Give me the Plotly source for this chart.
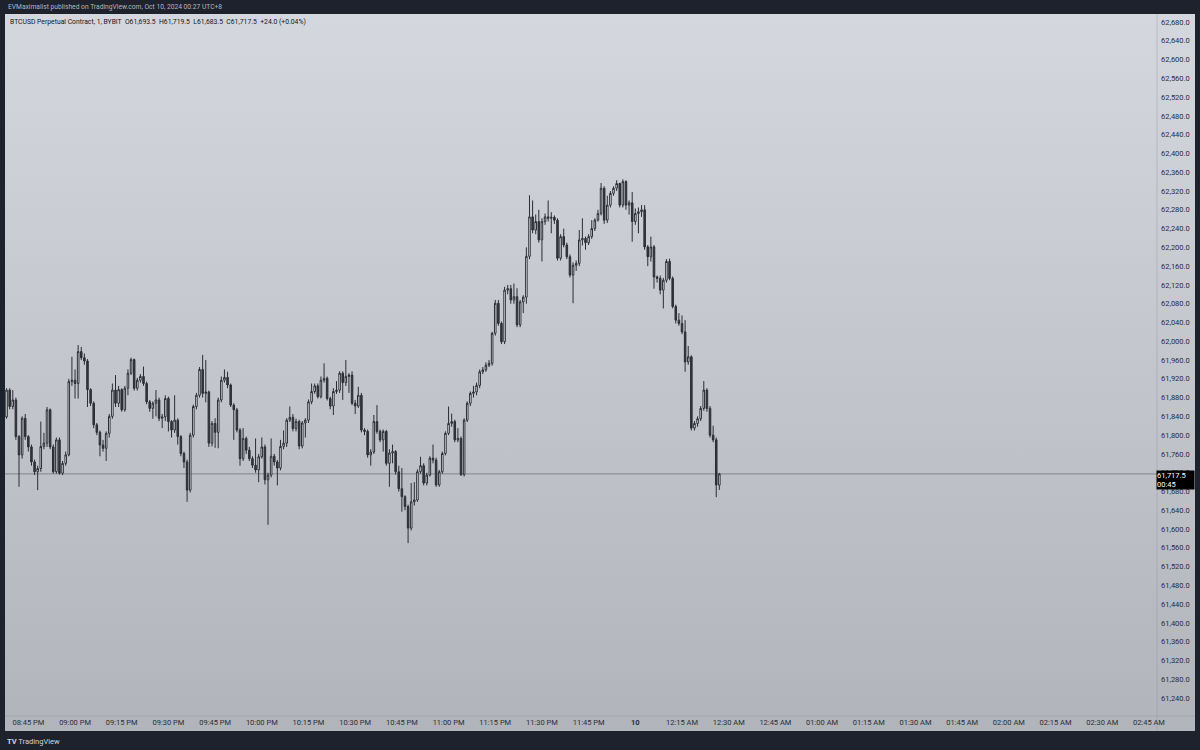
import base64
import plotly.graph_objects as go
import pandas as pd

# ---------------- data (BTCUSD 1-minute candles) ----------------
start_time = "2024-10-09 20:38"

opens = [
    61839, 61896, 61861, 61875, 61797, 61758, 61836, 61797, 61775, 61743,
    61722, 61729, 61776, 61783, 61854, 61775, 61722, 61790, 61719, 61740,
    61758, 61914, 61917, 61910, 61978, 61965, 61958, 61897, 61868, 61822,
    61806, 61779, 61772, 61804, 61840, 61896, 61868, 61897, 61854, 61900,
    61932, 61961, 61900, 61917, 61925, 61910, 61871, 61857, 61868, 61875,
    61836, 61839, 61878, 61829, 61811, 61832, 61797, 61761, 61743, 61683,
    61800, 61861, 61885, 61940, 61889, 61892, 61783, 61825, 61806, 61875,
    61917, 61923, 61907, 61864, 61854, 61811, 61750, 61793, 61768, 61750,
    61736, 61726, 61754, 61775, 61705, 61715, 61755, 61743, 61730, 61776,
    61783, 61832, 61838, 61814, 61829, 61777, 61826, 61832, 61871, 61893,
    61905, 61882, 61917, 61921, 61878, 61862, 61893, 61896, 61932, 61912,
    61925, 61928, 61868, 61862, 61885, 61811, 61808, 61758, 61764, 61829,
    61808, 61790, 61808, 61740, 61762, 61765, 61722, 61686, 61669, 61648,
    61602, 61658, 61662, 61722, 61735, 61698, 61715, 61751, 61747, 61694,
    61722, 61761, 61804, 61825, 61829, 61790, 61793, 61716, 61832, 61868,
    61889, 61892, 61906, 61935, 61939, 61949, 61953, 62017, 62081, 62038,
    61999, 62109, 62112, 62088, 62095, 62035, 62084, 62094, 62181, 62265,
    62237, 62255, 62216, 62255, 62265, 62262, 62264, 62258, 62177, 62223,
    62205, 62180, 62141, 62162, 62166, 62216, 62219, 62210, 62223, 62240,
    62258, 62272, 62326, 62258, 62290, 62315, 62326, 62336, 62290, 62340,
    62290, 62295, 62255, 62272, 62276, 62280, 62201, 62180, 62201, 62137,
    62134, 62109, 62130, 62170, 62134, 62074, 62045, 62038, 62020, 61956,
    61967, 61815, 61825, 61835, 61857, 61896, 61857, 61800, 61790, 61693.5,
]

highs = [
    61900, 61900, 61896, 61880, 61800, 61840, 61845, 61800, 61780, 61748,
    61735, 61829, 61805, 61860, 61857, 61780, 61795, 61795, 61745, 61765,
    61920, 61967, 61940, 61992, 61988, 61974, 61962, 61900, 61872, 61826,
    61810, 61790, 61808, 61845, 61910, 61928, 61905, 61900, 61905, 61940,
    61965, 61963, 61922, 61930, 61946, 61914, 61875, 61872, 61896, 61880,
    61845, 61885, 61882, 61832, 61885, 61836, 61800, 61765, 61748, 61805,
    61865, 61890, 61945, 61971, 61960, 61895, 61830, 61836, 61880, 61925,
    61940, 61935, 61910, 61868, 61858, 61815, 61815, 61797, 61775, 61755,
    61793, 61760, 61795, 61780, 61720, 61793, 61760, 61747, 61790, 61810,
    61836, 61861, 61845, 61835, 61833, 61830, 61836, 61876, 61910, 61910,
    61910, 61925, 61953, 61925, 61882, 61900, 61915, 61936, 61936, 61960,
    61932, 61936, 61875, 61903, 61890, 61815, 61812, 61770, 61843, 61864,
    61812, 61812, 61811, 61770, 61780, 61768, 61735, 61730, 61672, 61652,
    61698, 61700, 61727, 61754, 61740, 61720, 61755, 61780, 61752, 61726,
    61765, 61808, 61861, 61846, 61833, 61815, 61797, 61836, 61872, 61893,
    61905, 61912, 61940, 61945, 61955, 61960, 62020, 62088, 62088, 62042,
    62116, 62120, 62120, 62123, 62113, 62088, 62098, 62200, 62311, 62300,
    62270, 62280, 62262, 62272, 62300, 62275, 62268, 62262, 62228, 62240,
    62210, 62185, 62168, 62172, 62237, 62262, 62223, 62228, 62258, 62262,
    62280, 62337, 62330, 62310, 62320, 62330, 62343, 62338, 62345, 62343,
    62300, 62318, 62283, 62285, 62290, 62290, 62205, 62223, 62205, 62140,
    62140, 62135, 62175, 62176, 62138, 62078, 62060, 62055, 62045, 61990,
    61970, 61830, 61840, 61862, 61915, 61900, 61862, 61820, 61795, 61719.5,
]

lows = [
    61835, 61855, 61855, 61790, 61690, 61750, 61790, 61765, 61735, 61715,
    61683, 61722, 61770, 61775, 61770, 61718, 61718, 61716, 61715, 61735,
    61755, 61905, 61878, 61878, 61960, 61950, 61860, 61862, 61815, 61800,
    61755, 61765, 61745, 61795, 61835, 61860, 61860, 61850, 61850, 61885,
    61928, 61895, 61895, 61912, 61905, 61866, 61850, 61835, 61840, 61830,
    61815, 61830, 61808, 61795, 61805, 61780, 61755, 61730, 61658, 61678,
    61795, 61855, 61880, 61880, 61870, 61775, 61776, 61773, 61772, 61870,
    61912, 61900, 61860, 61790, 61806, 61735, 61745, 61760, 61745, 61730,
    61720, 61700, 61750, 61695, 61609, 61710, 61735, 61693, 61725, 61770,
    61775, 61828, 61808, 61808, 61770, 61772, 61795, 61826, 61866, 61888,
    61878, 61878, 61912, 61874, 61855, 61843, 61888, 61890, 61875, 61905,
    61890, 61864, 61845, 61858, 61806, 61800, 61752, 61735, 61760, 61803,
    61785, 61765, 61735, 61690, 61740, 61716, 61680, 61637, 61640, 61570,
    61597, 61650, 61658, 61718, 61693, 61693, 61712, 61740, 61690, 61690,
    61718, 61757, 61800, 61818, 61785, 61785, 61713, 61712, 61828, 61862,
    61880, 61885, 61900, 61930, 61935, 61945, 61948, 62012, 62033, 61994,
    61994, 62100, 62080, 62080, 62030, 62030, 62060, 62080, 62175, 62230,
    62228, 62210, 62170, 62248, 62255, 62230, 62250, 62172, 62172, 62200,
    62175, 62136, 62081, 62150, 62160, 62204, 62195, 62205, 62218, 62235,
    62255, 62268, 62250, 62252, 62285, 62310, 62320, 62285, 62285, 62280,
    62270, 62212, 62248, 62230, 62265, 62195, 62160, 62170, 62112, 62125,
    62100, 62070, 62125, 62130, 62070, 62038, 62033, 62015, 61935, 61950,
    61810, 61810, 61818, 61830, 61852, 61850, 61795, 61785, 61668, 61683.5,
]

closes = [
    61896, 61861, 61875, 61797, 61758, 61836, 61797, 61775, 61743, 61722,
    61729, 61776, 61783, 61854, 61775, 61722, 61790, 61719, 61740, 61758,
    61914, 61917, 61910, 61978, 61965, 61958, 61897, 61868, 61822, 61806,
    61779, 61772, 61804, 61840, 61896, 61868, 61897, 61854, 61900, 61932,
    61961, 61900, 61917, 61925, 61910, 61871, 61857, 61868, 61875, 61836,
    61839, 61878, 61829, 61811, 61832, 61797, 61761, 61743, 61683, 61800,
    61861, 61885, 61940, 61889, 61892, 61783, 61825, 61806, 61875, 61917,
    61923, 61907, 61864, 61854, 61811, 61750, 61793, 61768, 61750, 61736,
    61726, 61754, 61775, 61705, 61715, 61755, 61743, 61730, 61776, 61783,
    61832, 61838, 61814, 61829, 61777, 61826, 61832, 61871, 61893, 61905,
    61882, 61917, 61921, 61878, 61862, 61893, 61896, 61932, 61912, 61925,
    61928, 61868, 61862, 61885, 61811, 61808, 61758, 61764, 61829, 61808,
    61790, 61808, 61740, 61762, 61765, 61722, 61686, 61669, 61648, 61602,
    61658, 61662, 61722, 61735, 61698, 61715, 61751, 61747, 61694, 61722,
    61761, 61804, 61825, 61829, 61790, 61793, 61716, 61832, 61868, 61889,
    61892, 61906, 61935, 61939, 61949, 61953, 62017, 62081, 62038, 61999,
    62109, 62112, 62088, 62095, 62035, 62084, 62094, 62181, 62265, 62237,
    62255, 62216, 62255, 62265, 62262, 62264, 62258, 62177, 62223, 62205,
    62180, 62141, 62162, 62166, 62216, 62219, 62210, 62223, 62240, 62258,
    62272, 62326, 62258, 62290, 62315, 62326, 62336, 62290, 62340, 62290,
    62295, 62255, 62272, 62276, 62280, 62201, 62180, 62201, 62137, 62134,
    62109, 62130, 62170, 62134, 62074, 62045, 62038, 62020, 61956, 61967,
    61815, 61825, 61835, 61857, 61896, 61857, 61800, 61790, 61694, 61717.5,
]

last_price = 61717.5
countdown = "00:45"

time_tick_vals = pd.date_range("2024-10-09 20:45", "2024-10-10 02:45", freq="15min")
time_tick_text = ["08:45 PM", "09:00 PM", "09:15 PM", "09:30 PM", "09:45 PM", "10:00 PM",
                  "10:15 PM", "10:30 PM", "10:45 PM", "11:00 PM", "11:15 PM", "11:30 PM",
                  "11:45 PM", "<b>10</b>", "12:15 AM", "12:30 AM", "12:45 AM", "01:00 AM",
                  "01:15 AM", "01:30 AM", "01:45 AM", "02:00 AM", "02:15 AM", "02:30 AM",
                  "02:45 AM"]

header_text = ("BTCUSD Perpetual Contract, 1, BYBIT  O61,693.5  H61,719.5  "
               "L61,683.5  C61,717.5  +24.0 (+0.04%)")
publish_text = "EVMaximalist published on TradingView.com, Oct 10, 2024 00:27 UTC+8"

times = pd.date_range(start_time, periods=len(closes), freq="1min")

# ---------------- figure ----------------
W, H = 1200, 750
ML, MR, MT, MB = 5, 43, 14, 34
PW, PH = W - ML - MR, H - MT - MB

FONT = "Roboto"
DARK = "#1e222d"
INK = "#2a2e39"


def px_x(x):
    return (x - ML) / PW


def px_y(y):
    return (H - MB - y) / PH


# vertical gradient for the chart panel, as an SVG image
svg = ('<svg xmlns="http://www.w3.org/2000/svg" width="100" height="100" preserveAspectRatio="none">'
       '<defs><linearGradient id="g" x1="0" y1="0" x2="0" y2="1">'
       '<stop offset="0" stop-color="#d4d7dd"/><stop offset="1" stop-color="#b1b4ba"/>'
       '</linearGradient></defs><rect width="100" height="100" fill="url(#g)"/></svg>')
svg_uri = "data:image/svg+xml;base64," + base64.b64encode(svg.encode()).decode()

fig = go.Figure()
fig.add_trace(go.Candlestick(
    x=times, open=opens, high=highs, low=lows, close=closes,
    increasing=dict(line=dict(color="#2b2e34", width=1), fillcolor="#ffffff"),
    decreasing=dict(line=dict(color="#2b2e34", width=1), fillcolor="#34373e"),
    whiskerwidth=0, hoverinfo="skip", showlegend=False,
))

shapes = [
    # axis separators
    dict(type="line", xref="paper", yref="paper", layer="below",
         x0=1, x1=1, y0=px_y(731), y1=1,
         line=dict(color="rgba(150,153,162,0.45)", width=1)),
    dict(type="line", xref="paper", yref="paper", layer="below",
         x0=0, x1=px_x(1195), y0=0, y1=0,
         line=dict(color="rgba(150,153,162,0.45)", width=1)),
    # last price line
    dict(type="line", xref="paper", yref="y", layer="below",
         x0=0, x1=1, y0=last_price, y1=last_price,
         line=dict(color="rgba(110,113,122,0.75)", width=1)),
]

images = [dict(source=svg_uri, xref="paper", yref="paper",
               x=px_x(5), y=px_y(14), sizex=px_x(1195) - px_x(5), sizey=px_y(14) - px_y(731),
               xanchor="left", yanchor="top", sizing="stretch", layer="below")]

annotations = [
    dict(xref="paper", yref="paper", x=px_x(6), y=px_y(7), xanchor="left", yanchor="middle",
         text=publish_text, showarrow=False, font=dict(family=FONT, size=6.7, color="#b2b5be")),
    dict(xref="paper", yref="paper", x=px_x(8), y=px_y(22), xanchor="left", yanchor="middle",
         text=header_text, showarrow=False, font=dict(family=FONT, size=6.8, color="#131722")),
    dict(xref="paper", yref="paper", x=px_x(5), y=px_y(741), xanchor="left", yanchor="middle",
         text="<b>TV</b> TradingView", showarrow=False,
         font=dict(family=FONT, size=7.5, color="#d1d4dc")),
    dict(xref="paper", yref="y", x=1, y=last_price, xanchor="left", yanchor="top",
         xshift=-1, yshift=4, align="left", valign="middle",
         text="61,717.5<br>" + countdown, showarrow=False, bgcolor="#000000",
         borderpad=0, width=37, height=18,
         font=dict(family=FONT, size=7.5, color="#ffffff")),
]

fig.update_layout(
    width=W, height=H,
    margin=dict(l=ML, r=MR, t=MT, b=MB, pad=0),
    paper_bgcolor=DARK, plot_bgcolor="rgba(0,0,0,0)",
    shapes=shapes, annotations=annotations, images=images,
    xaxis=dict(
        type="date", rangeslider=dict(visible=False),
        range=["2024-10-09 20:37:30", "2024-10-10 02:47:36"],
        tickvals=list(time_tick_vals), ticktext=time_tick_text,
        showgrid=False, zeroline=False, showline=False, ticks="",
        tickfont=dict(family=FONT, size=7.5, color=INK),
        fixedrange=True,
    ),
    yaxis=dict(
        side="right", range=[61201.8, 62697.1],
        tick0=61240, dtick=40, tickformat=",.1f",
        showgrid=False, zeroline=False, showline=False, ticks="",
        ticklabelstandoff=3,
        tickfont=dict(family=FONT, size=7.5, color=INK),
        fixedrange=True,
    ),
    hovermode=False,
)

fig.write_html("out.html", config={"displayModeBar": False},
               post_script="document.body.style.margin='0';document.body.style.background='#1e222d';")
